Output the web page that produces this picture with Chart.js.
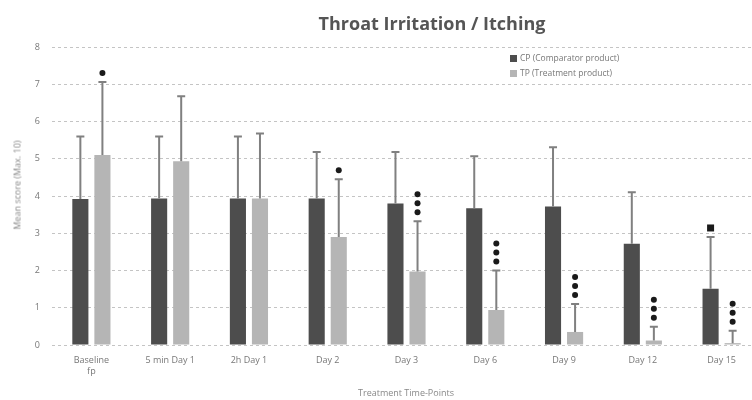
<!DOCTYPE html>
<html>
<head>
<meta charset="utf-8">
<script src="https://cdn.jsdelivr.net/npm/chart.js@4/dist/chart.umd.min.js"></script>
<style>
  html, body { margin: 0; padding: 0; background: #fff; overflow: hidden; }
  #wrap { position: relative; width: 762px; height: 400px; }
  #title { position: absolute; left: 432px; top: 11px; transform: translateX(-50%); white-space: nowrap;
    font: bold 18px "Open Sans", sans-serif; color: #555; }
  #ytitle { position: absolute; left: 17px; top: 185px; transform: translate(-50%, -50%) rotate(-90deg); white-space: nowrap;
    font: 9px "Open Sans", sans-serif; color: #888; }
  #xtitle { position: absolute; left: 406px; top: 386px; transform: translateX(-50%); white-space: nowrap;
    font: 9px "Open Sans", sans-serif; color: #888; }
  #legend { position: absolute; left: 510px; top: 50px; font: 8.5px "Open Sans", sans-serif; color: #777; line-height: 15px; }
  #legend span { display: inline-block; width: 7px; height: 7px; margin-right: 3px; vertical-align: -1px; }
</style>
</head>
<body>
<div id="wrap">
  <canvas id="chart" width="762" height="400"></canvas>
  <div id="title">Throat Irritation / Itching</div>
  <div id="ytitle">Mean score (Max. 10)</div>
  <div id="xtitle">Treatment Time-Points</div>
  <div id="legend">
    <div><span style="background:#4d4d4d"></span>CP (Comparator product)</div>
    <div><span style="background:#b5b5b5"></span>TP (Treatment product)</div>
  </div>
</div>
<script>
const labels = [['Baseline', 'fp'], '5 min Day 1', '2h Day 1', 'Day 2', 'Day 3', 'Day 6', 'Day 9', 'Day 12', 'Day 15'];
const cpMean = [3.92, 3.93, 3.93, 3.93, 3.80, 3.67, 3.72, 2.72, 1.51];
const cpSd = [1.68, 1.67, 1.67, 1.25, 1.38, 1.40, 1.59, 1.38, 1.39];
const tpMean = [5.10, 4.93, 3.93, 2.90, 1.97, 0.94, 0.35, 0.12, 0.05];
const tpSd = [1.96, 1.75, 1.75, 1.55, 1.35, 1.06, 0.75, 0.37, 0.33];
const cpSig = [0, 0, 0, 0, 0, 0, 0, 0, 1];
const tpSig = [1, 0, 0, 1, 3, 3, 3, 3, 3];

const errorBars = {
  id: 'errorBars',
  afterDatasetsDraw(chart) {
    const ctx = chart.ctx;
    const y = chart.scales.y;
    const sets = [[cpMean, cpSd, cpSig, 'rect'], [tpMean, tpSd, tpSig, 'circle']];
    sets.forEach(([means, sds, sig, shape], d) => {
      const meta = chart.getDatasetMeta(d);
      meta.data.forEach((bar, i) => {
        const x = bar.x;
        const yTop = y.getPixelForValue(means[i] + sds[i]);
        const yBar = y.getPixelForValue(means[i]);
        ctx.save();
        ctx.strokeStyle = '#808080';
        ctx.lineWidth = 2;
        ctx.beginPath();
        ctx.moveTo(x, yBar);
        ctx.lineTo(x, yTop);
        ctx.moveTo(x - 4, yTop);
        ctx.lineTo(x + 4, yTop);
        ctx.stroke();
        ctx.fillStyle = '#1a1a1a';
        for (let k = 0; k < sig[i]; k++) {
          const cy = yTop - 9 - k * 9;
          ctx.beginPath();
          if (shape === 'rect') ctx.rect(x - 3.5, cy - 3.5, 7, 7);
          else ctx.arc(x, cy, 3, 0, Math.PI * 2);
          ctx.fill();
        }
        ctx.restore();
      });
    });
  }
};

new Chart(document.getElementById('chart'), {
  type: 'bar',
  data: {
    labels,
    datasets: [
      { label: 'CP (Comparator product)', data: cpMean, backgroundColor: '#4d4d4d' },
      { label: 'TP (Treatment product)', data: tpMean, backgroundColor: '#b5b5b5' }
    ]
  },
  options: {
    responsive: false,
    animation: false,
    categoryPercentage: 0.56,
    barPercentage: 0.73,
    layout: { padding: { top: 47, right: 1, left: 0, bottom: 0 } },
    plugins: { legend: { display: false }, tooltip: { enabled: false } },
    scales: {
      x: {
        grid: { display: false, drawTicks: false },
        border: { display: false },
        ticks: { color: '#777', font: { family: 'Open Sans', size: 9 }, padding: 10, maxRotation: 0, autoSkip: false },
        afterFit(scale) { scale.height = 55; }
      },
      y: {
        min: 0,
        max: 8,
        grid: { color: '#c4c4c4', drawTicks: false, lineWidth: 1 },
        border: { display: false, dash: [3, 3] },
        ticks: { stepSize: 1, color: '#777', font: { family: 'Open Sans', size: 9 }, padding: 12 },
        afterFit(scale) { scale.width = 52; }
      }
    }
  },
  plugins: [errorBars]
});
</script>
</body>
</html>
